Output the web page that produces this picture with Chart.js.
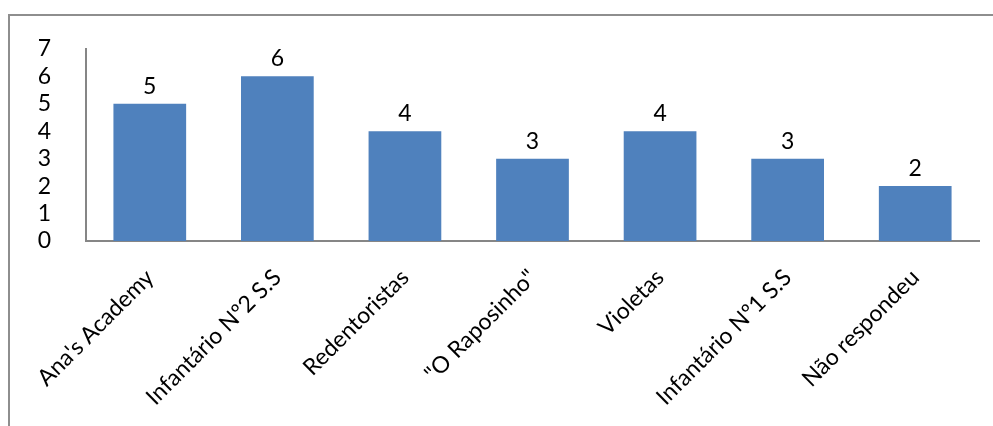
<!DOCTYPE html>
<html>
<head>
<meta charset="utf-8">
<script src="https://cdn.jsdelivr.net/npm/chart.js@4"></script>
<style>
  html, body { margin: 0; padding: 0; background: #fff; }
  #wrap { position: relative; width: 993px; height: 426px; overflow: hidden; }
  #frame { position: absolute; left: 8px; top: 14px; width: 1000px; height: 430px; border: 2px solid #8e8e8e; box-sizing: border-box; }
  canvas { position: absolute; left: 0; top: 0; }
</style>
</head>
<body>
<div id="wrap">
  <div id="frame"></div>
  <canvas id="myChart" width="993" height="426"></canvas>
</div>
<script>
const categories = ["Ana's Academy", 'Infantário Nº2 S.S', 'Redentoristas', '"O Raposinho"', 'Violetas', 'Infantário Nº1 S.S', 'Não respondeu'];
const counts = [5, 6, 4, 3, 4, 3, 2];
const yTicks = [0, 1, 2, 3, 4, 5, 6, 7];

const fontFamily = 'Lato, "Open Sans", sans-serif';

// numbers above each bar
const barLabels = {
    id: 'barLabels',
    afterDatasetsDraw(chart) {
        const ctx = chart.ctx;
        const meta = chart.getDatasetMeta(0);
        ctx.save();
        ctx.fillStyle = '#000';
        ctx.font = '23px ' + fontFamily;
        ctx.textAlign = 'center';
        ctx.textBaseline = 'bottom';
        meta.data.forEach((bar, i) => {
            ctx.fillText(String(counts[i]), bar.x, bar.y - 6);
        });
        ctx.restore();
    }
};

const chart = new Chart(document.getElementById('myChart'), {
    type: 'bar',
    data: {
        labels: categories,
        datasets: [{
            data: counts,
            backgroundColor: '#4F81BD',
            categoryPercentage: 1,
            barPercentage: 0.57
        }]
    },
    options: {
        responsive: false,
        animation: false,
        layout: { padding: { left: 0, top: 37, right: 14, bottom: 0 } },
        plugins: { legend: { display: false }, tooltip: { enabled: false } },
        scales: {
            x: {
                grid: { display: false, drawTicks: false },
                border: { color: '#868686', width: 2 },
                ticks: {
                    color: '#000',
                    font: { size: 23, family: fontFamily },
                    minRotation: 45,
                    maxRotation: 45,
                    padding: 23
                },
                afterFit(scale) { scale.height = 185; }
            },
            y: {
                min: 0,
                max: 7,
                afterBuildTicks(scale) { scale.ticks = yTicks.map(v => ({ value: v })); },
                grid: { display: false, drawTicks: false },
                border: { color: '#868686', width: 2 },
                ticks: {
                    autoSkip: false,
                    color: '#000',
                    font: { size: 23, family: fontFamily },
                    padding: 35
                },
                afterFit(scale) { scale.width = 86; }
            }
        }
    },
    plugins: [barLabels]
});
</script>
</body>
</html>
